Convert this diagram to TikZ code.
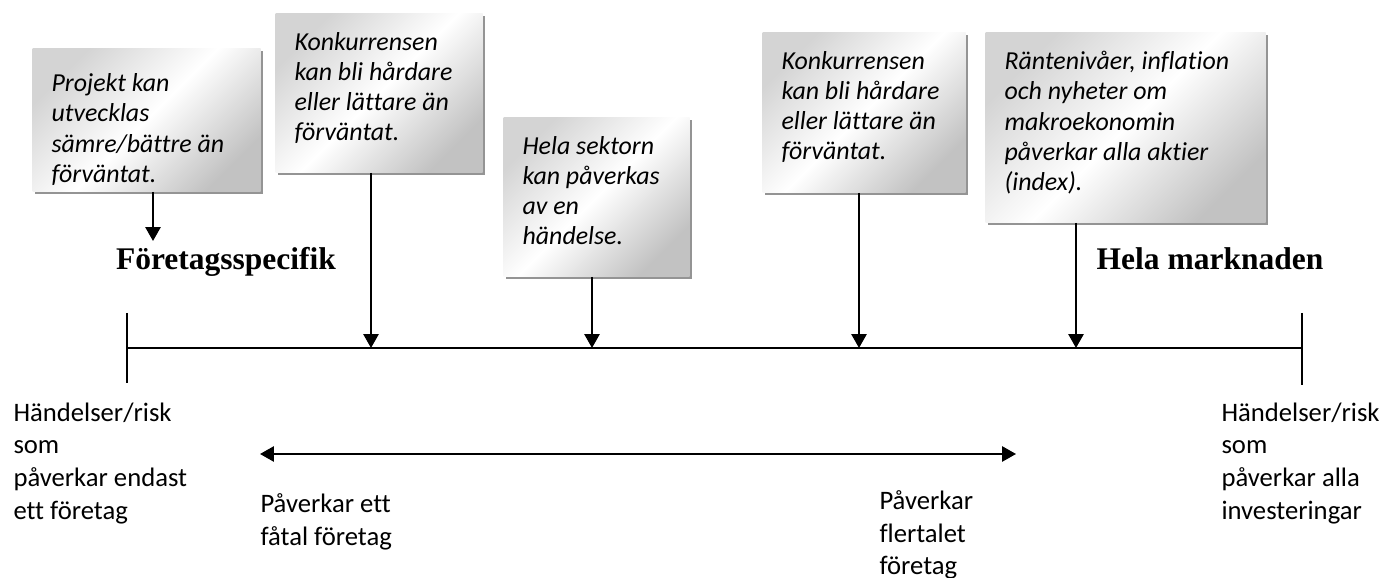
\documentclass[tikz,border=0pt]{standalone}
\usepackage{fontspec}
\setmainfont{Carlito}[Ligatures=NoCommon]
\newfontfamily\headfont{Liberation Serif}
\usetikzlibrary{arrows.meta}
\usetikzlibrary{shadows}

\newlength\px
\setlength\px{0.3937pt}
\newcommand{\boxtxt}[3]{\parbox[t][#2\px][t]{#1\px}{\raggedright\vspace*{3.5pt}#3}}

\tikzset{
  infobox/.style={anchor=north west, inner xsep=7.5pt, inner ysep=3.9pt,
    top color=black!17, bottom color=black!24, middle color=white, shading angle=45,
    drop shadow={shadow xshift=1.1pt, shadow yshift=-1.1pt, fill=black!42, opacity=1},
    font=\fontsize{10.2}{11.9}\selectfont\itshape},
  pil/.style={line width=0.8pt, -{Triangle[length=5.5pt,width=6pt]}},
  axis/.style={line width=0.7pt},
  bottomtxt/.style={font=\fontsize{10.5}{12.9}\selectfont, align=left, inner sep=0pt, anchor=north west},
  head/.style={font=\headfont\bfseries\fontsize{12.4}{14}\selectfont, inner sep=0pt, anchor=base}
}

\begin{document}
\begin{tikzpicture}[x=0.3937pt, y=-0.3937pt]
\useasboundingbox[fill=white] (0,0) rectangle (1400,578);

% boxes
\node[infobox] (proj) at (32,48) {\boxtxt{190}{123}{\vspace*{2.5pt}Projekt kan\\utvecklas\\sämre/bättre än\\förväntat.}};
\node[infobox] (konkA) at (275,13) {\boxtxt{169}{139}{Konkurrensen\\kan bli hårdare\\eller lättare än\\förväntat.}};
\node[infobox] (sektor) at (503,117) {\boxtxt{148}{139}{Hela sektorn\\kan påverkas\\av en\\händelse.}};
\node[infobox] (konkB) at (762,32) {\boxtxt{165}{140}{Konkurrensen\\kan bli hårdare\\eller lättare än\\förväntat.}};
\node[infobox] (makro) at (985,32) {\boxtxt{242}{170}{Räntenivåer, inflation\\och nyheter om\\makroekonomin\\påverkar alla aktier\\(index).}};

% headings
\node[head] (firm) at (226,270) {Företagsspecifik};
\node[head] (market) at (1210,270) {Hela marknaden};

% axis
\coordinate (axL) at (127,348);
\coordinate (axR) at (1302,348);
\draw[axis] (axL) -- (axR);
\draw[axis] ([yshift=13.8pt]axL) -- ([yshift=-13.8pt]axL);
\draw[axis] ([yshift=13.8pt]axR) -- ([yshift=-14.5pt]axR);

% arrows
\coordinate (p1) at (153,241);
\coordinate (p2) at (371,348);
\coordinate (p3) at (592,348);
\coordinate (p4) at (859,348);
\coordinate (p5) at (1076,348);
\draw[pil] (proj.south -| p1) -- (p1);
\draw[pil] (konkA.south -| p2) -- (p2);
\draw[pil] (sektor.south -| p3) -- (p3);
\draw[pil] (konkB.south -| p4) -- (p4);
\draw[pil] (makro.south -| p5) -- (p5);

\coordinate (fewL) at (260,454);
\coordinate (manyR) at (1016,454);
\draw[pil, {Triangle[length=5.5pt,width=6pt]}-{Triangle[length=5.5pt,width=6pt]}] (fewL) -- (manyR);

% bottom texts
\node[bottomtxt] (onefirm) at (13,402) {Händelser/risk\\som\\påverkar endast\\ett företag};
\node[bottomtxt] (few) at (260,493) {Påverkar ett\\fåtal företag};
\node[bottomtxt] (many) at (879,490) {Påverkar\\flertalet\\företag};
\node[bottomtxt] (all) at (1221,402) {Händelser/risk\\som\\påverkar alla\\investeringar};

\end{tikzpicture}
\end{document}
